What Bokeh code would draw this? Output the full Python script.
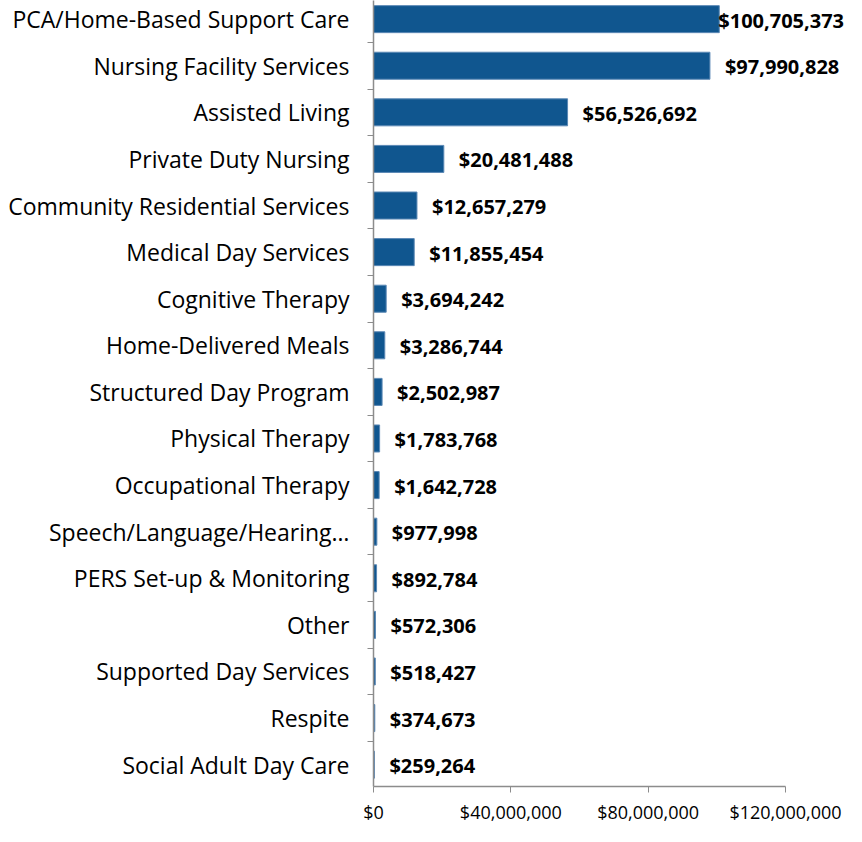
from bokeh.plotting import figure
from bokeh.models import ColumnDataSource, FixedTicker, NumeralTickFormatter, Range1d
from bokeh.core.properties import value
from bokeh.embed import file_html
from bokeh.resources import INLINE

categories = [
    "PCA/Home-Based Support Care",
    "Nursing Facility Services",
    "Assisted Living",
    "Private Duty Nursing",
    "Community Residential Services",
    "Medical Day Services",
    "Cognitive Therapy",
    "Home-Delivered Meals",
    "Structured Day Program",
    "Physical Therapy",
    "Occupational Therapy",
    "Speech/Language/Hearing…",
    "PERS Set-up & Monitoring",
    "Other",
    "Supported Day Services",
    "Respite",
    "Social Adult Day Care",
]
values = [
    100705373, 97990828, 56526692, 20481488, 12657279, 11855454,
    3694242, 3286744, 2502987, 1783768, 1642728, 977998, 892784,
    572306, 518427, 374673, 259264,
]
x_ticks = [0, 40000000, 80000000, 120000000]

n = len(categories)
ypos = [n - 1 - i for i in range(n)]
labels = ["${:,}".format(v) for v in values]
AXMAX = 120000000
W, H = 846, 826
LEFT = 373
PX_PER_AXIS = 412.0
XEND = AXMAX * (W - LEFT) / PX_PER_AXIS
# labels that would overflow the right edge sit tight against their bar
offsets = [-1 if len(lab) > 11 else 15 for lab in labels]

src = ColumnDataSource(dict(y=ypos, v=values, lab=labels, off=offsets))

FONT = "Open Sans"
p = figure(width=W, height=H, output_backend="svg", toolbar_location=None,
           x_range=Range1d(0, XEND), y_range=Range1d(-0.4687, 16.40),
           min_border_left=LEFT, min_border_right=0, min_border_top=0,
           min_border_bottom=34)
p.outline_line_color = None
p.xgrid.visible = False
p.ygrid.visible = False

p.hbar(y="y", left=0, right="v", height=0.58, source=src,
       fill_color="#10568F", line_color="#5B88B5", line_width=1)

p.text(x="v", y="y", text="lab", source=src, x_offset="off", y_offset=1,
       text_align="left", text_baseline="middle",
       text_font=value(FONT), text_font_size="20px",
       text_font_style="bold", text_color="#000000")

# y axis
p.yaxis.ticker = FixedTicker(ticks=ypos, minor_ticks=[i - 0.5 for i in range(n + 1)])
p.yaxis.major_label_overrides = {y: c for y, c in zip(ypos, categories)}
p.yaxis.major_tick_out = 0
p.yaxis.major_tick_in = 0
p.yaxis.minor_tick_out = 6
p.yaxis.minor_tick_in = 0
p.yaxis.minor_tick_line_color = "#8C8C8C"
p.yaxis.axis_line_color = "#8C8C8C"
p.yaxis.axis_line_width = 1.5
p.yaxis.major_label_standoff = 18
p.yaxis.major_label_text_font = FONT
p.yaxis.major_label_text_font_size = "23px"
p.yaxis.major_label_text_color = "#000000"

# x axis
p.xaxis.ticker = FixedTicker(ticks=x_ticks)
p.xaxis.bounds = (0, AXMAX)
p.xaxis.formatter = NumeralTickFormatter(format="$0,0")
p.xaxis.major_tick_out = 6
p.xaxis.major_tick_in = 0
p.xaxis.minor_tick_out = 0
p.xaxis.minor_tick_in = 0
p.xaxis.axis_line_color = "#8C8C8C"
p.xaxis.major_tick_line_color = "#8C8C8C"
p.xaxis.axis_line_width = 1.5
p.xaxis.major_label_standoff = 7
p.xaxis.major_label_text_font = FONT
p.xaxis.major_label_text_font_size = "18px"
p.xaxis.major_label_text_color = "#000000"

open("out.html", "w").write(file_html(p, INLINE))
